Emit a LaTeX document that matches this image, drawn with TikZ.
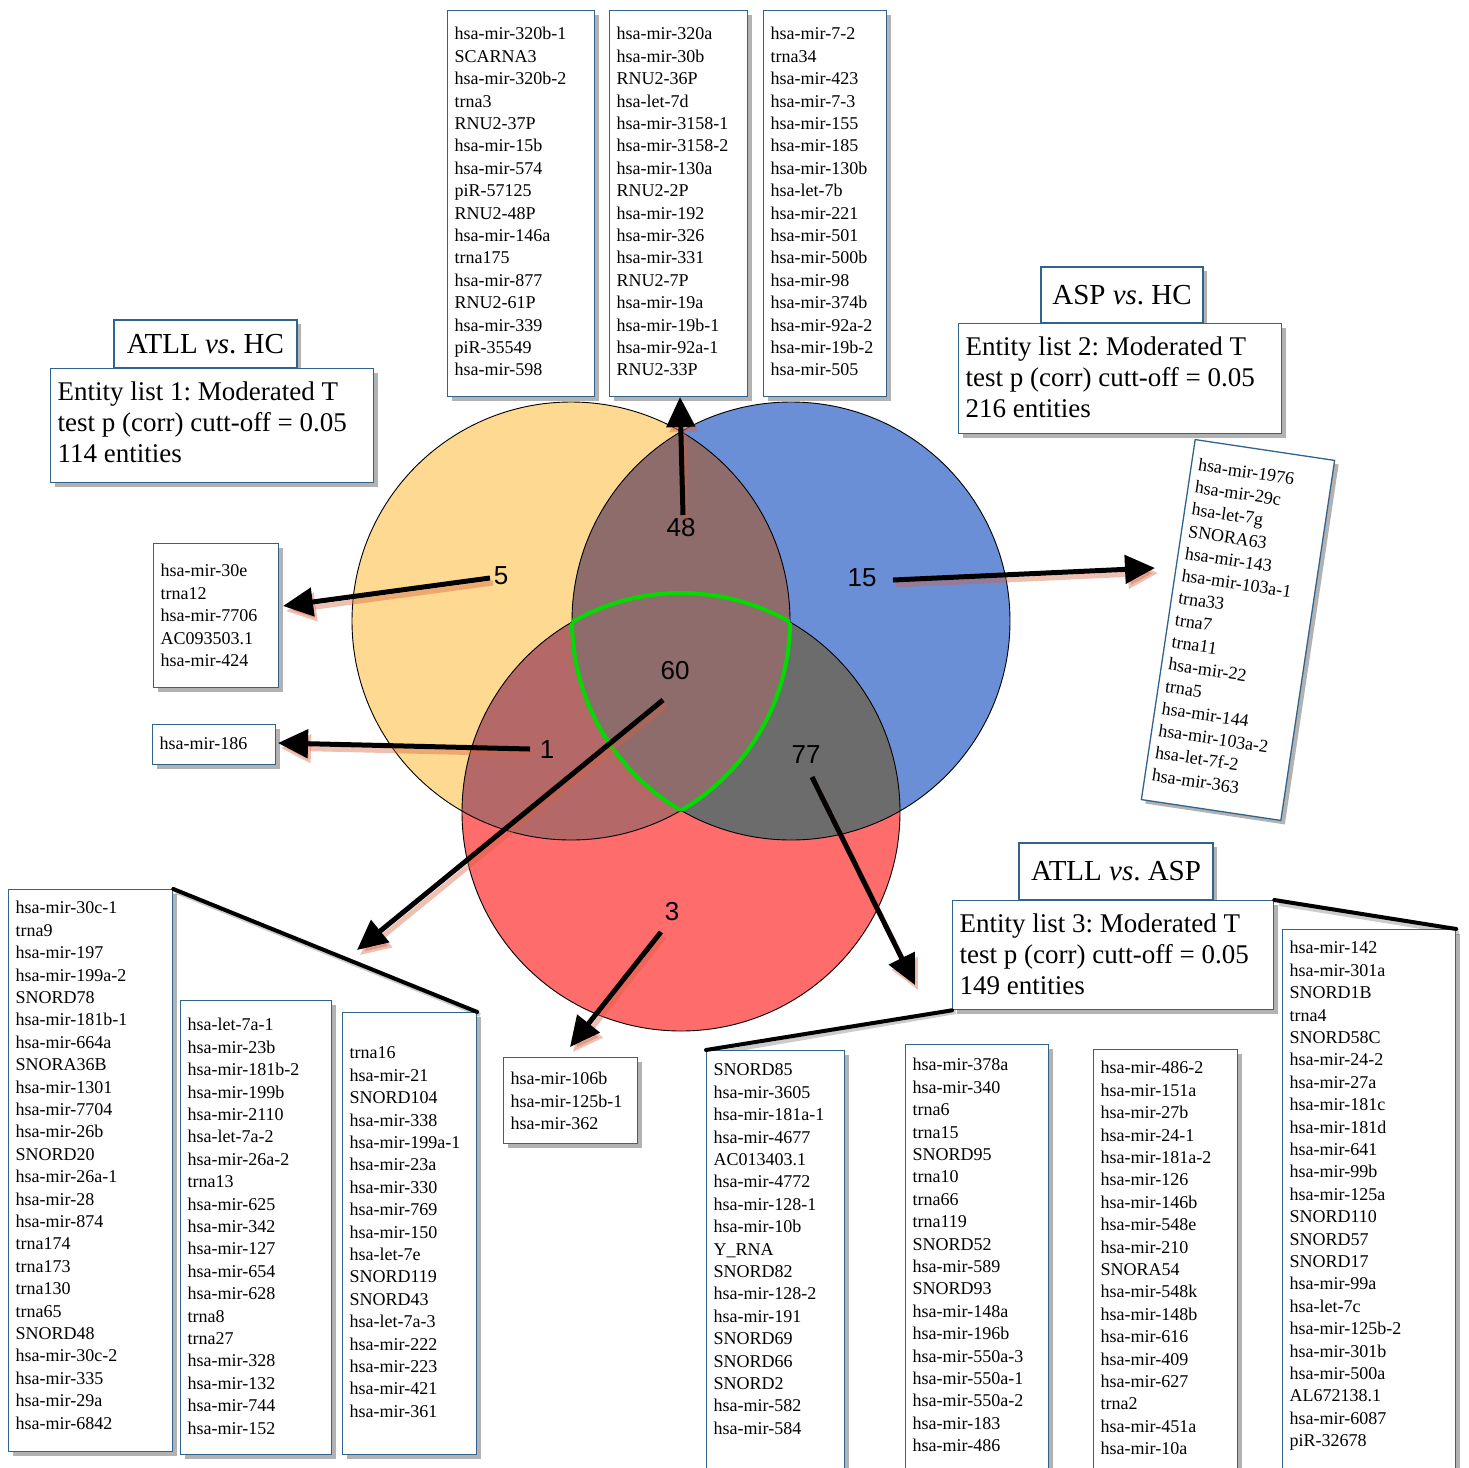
\documentclass[tikz,border=0pt]{standalone}
\usepackage{fontspec}
\setmainfont{Liberation Serif}
\newfontfamily\numfont{Liberation Sans}
\usetikzlibrary{arrows.meta,shadows}
\frenchspacing
\definecolor{ycol}{RGB}{254,217,145}
\definecolor{bcol}{RGB}{106,143,214}
\definecolor{rcol}{RGB}{255,108,108}
\definecolor{ybcol}{RGB}{142,108,108}
\definecolor{yrcol}{RGB}{180,104,104}
\definecolor{brcol}{RGB}{108,108,108}
\definecolor{grcol}{RGB}{0,220,0}
\definecolor{bordcol}{RGB}{49,100,140}
\definecolor{shcol}{RGB}{215,95,60}
\newcommand\mylist[4]{\parbox[c][#1][t]{#2}{\fontsize{18}{22.4}\selectfont\raggedright\vspace*{#3}\strut#4}}
\newcommand\myent[3]{\parbox[c][#1][t]{#2}{\fontsize{27}{31}\selectfont\frenchspacing\raggedright\vspace*{10pt}\strut#3}}
\begin{document}
\begin{tikzpicture}[x=1pt,y=-1pt,
  lbox/.style={draw=bordcol, line width=1.3pt, fill=white, rectangle,
    drop shadow={shadow xshift=4pt, shadow yshift=-4pt, fill=black, opacity=0.3},
    inner xsep=7pt, inner ysep=0pt, anchor=north west},
  hdr/.style={lbox, anchor=center, inner sep=0pt, font=\fontsize{29}{33}\selectfont},
  num/.style={font=\numfont\fontsize{26}{28}\selectfont, inner sep=0pt},
  arr/.style={line width=5pt, -{Triangle[length=30pt,width=28pt]}},
  arrsh/.style={arr, draw=shcol, opacity=0.4},
  callout/.style={line width=4pt, line cap=round},
  calloutsh/.style={line width=4pt, draw=gray, opacity=0.4}]
\useasboundingbox (0,0) rectangle (1468,1468);
\fill[white] (0,0) rectangle (1468,1468);
\clip (0,0) rectangle (1468,1468);
% Venn
\coordinate (Y) at (571,621);
\coordinate (B) at (791,621);
\coordinate (R) at (681,812);
\fill[ycol] (Y) circle (219);
\fill[bcol] (B) circle (219);
\fill[rcol] (R) circle (219);
\begin{scope}
  \clip (Y) circle (219);
  \fill[ybcol] (B) circle (219);
  \fill[yrcol] (R) circle (219);
\end{scope}
\begin{scope}
  \clip (B) circle (219);
  \fill[brcol] (R) circle (219);
\end{scope}
\begin{scope}
  \clip (Y) circle (219);
  \clip (B) circle (219);
  \fill[ybcol] (R) circle (219);
\end{scope}
\draw[line width=0.9pt] (Y) circle (219) (B) circle (219) (R) circle (219);
\begin{scope}
  \clip (Y) circle (219); \clip (B) circle (219);
  \draw[grcol, line width=4pt] (R) circle (219);
\end{scope}
\begin{scope}
  \clip (Y) circle (219); \clip (R) circle (219);
  \draw[grcol, line width=4pt] (B) circle (219);
\end{scope}
\begin{scope}
  \clip (B) circle (219); \clip (R) circle (219);
  \draw[grcol, line width=4pt] (Y) circle (219);
\end{scope}
% numbers
\node[num] (n48) at (681,528) {48};
\node[num] (n5) at (501,576) {5};
\node[num] (n15) at (862,578) {15};
\node[num] (n60) at (675,671) {60};
\node[num] (n1) at (547,750) {1};
\node[num] (n77) at (806,755) {77};
\node[num] (n3) at (672,912) {3};
% callout line shadows
\draw[calloutsh] (176,892) -- (480,1015);
\draw[calloutsh] (1279,904) -- (1459,933);
\draw[calloutsh] (956,1012) -- (710,1054);
% headers and entity boxes
\node[hdr, minimum width=183pt, minimum height=48pt] (H1) at (205.5,344) {ATLL \textit{vs}. HC};
\node[lbox] (E1) at (50,368) {\myent{114pt}{309pt}{Entity list 1: Moderated T\\test p (corr) cutt-off = 0.05\\114 entities}};
\node[hdr, minimum width=162pt, minimum height=56pt] (H2) at (1122,295) {ASP \textit{vs}. HC};
\node[lbox] (E2) at (958,323) {\myent{110pt}{309pt}{Entity list 2: Moderated T\\test p (corr) cutt-off = 0.05\\216 entities}};
\node[hdr, minimum width=194pt, minimum height=57pt] (H3) at (1116,871.5) {ATLL \textit{vs}. ASP};
\node[lbox] (E3) at (952,900) {\myent{109pt}{307pt}{Entity list 3: Moderated T\\test p (corr) cutt-off = 0.05\\149 entities}};
% top lists (48)
\node[lbox] (T1) at (447,10) {\mylist{386pt}{133pt}{13.6pt}{hsa-mir-320b-1\\SCARNA3\\hsa-mir-320b-2\\trna3\\RNU2-37P\\hsa-mir-15b\\hsa-mir-574\\piR-57125\\RNU2-48P\\hsa-mir-146a\\trna175\\hsa-mir-877\\RNU2-61P\\hsa-mir-339\\piR-35549\\hsa-mir-598}};
\node[lbox] (T2) at (609,10) {\mylist{386pt}{124pt}{13.6pt}{hsa-mir-320a\\hsa-mir-30b\\RNU2-36P\\hsa-let-7d\\hsa-mir-3158-1\\hsa-mir-3158-2\\hsa-mir-130a\\RNU2-2P\\hsa-mir-192\\hsa-mir-326\\hsa-mir-331\\RNU2-7P\\hsa-mir-19a\\hsa-mir-19b-1\\hsa-mir-92a-1\\RNU2-33P}};
\node[lbox] (T3) at (763,10) {\mylist{386pt}{109pt}{13.6pt}{hsa-mir-7-2\\trna34\\hsa-mir-423\\hsa-mir-7-3\\hsa-mir-155\\hsa-mir-185\\hsa-mir-130b\\hsa-let-7b\\hsa-mir-221\\hsa-mir-501\\hsa-mir-500b\\hsa-mir-98\\hsa-mir-374b\\hsa-mir-92a-2\\hsa-mir-19b-2\\hsa-mir-505}};
% left lists
\node[lbox] (L5) at (153,543) {\mylist{144pt}{111pt}{17.6pt}{hsa-mir-30e\\trna12\\hsa-mir-7706\\AC093503.1\\hsa-mir-424}};
\node[lbox] (L1) at (152,724) {\mylist{40pt}{109pt}{9.6pt}{hsa-mir-186}};
\node[lbox] (L3) at (503,1057) {\mylist{86pt}{120pt}{11.6pt}{hsa-mir-106b\\hsa-mir-125b-1\\hsa-mir-362}};
% right rotated list (15)
\node[lbox, anchor=center, rotate=-8.5] (R15) at (1238,630) {\mylist{364pt}{127pt}{14.6pt}{hsa-mir-1976\\hsa-mir-29c\\hsa-let-7g\\SNORA63\\hsa-mir-143\\hsa-mir-103a-1\\trna33\\trna7\\trna11\\hsa-mir-22\\trna5\\hsa-mir-144\\hsa-mir-103a-2\\hsa-let-7f-2\\hsa-mir-363}};
% bottom-left lists (60)
\node[lbox] (BL1) at (8,889) {\mylist{562pt}{150pt}{8.6pt}{hsa-mir-30c-1\\trna9\\hsa-mir-197\\hsa-mir-199a-2\\SNORD78\\hsa-mir-181b-1\\hsa-mir-664a\\SNORA36B\\hsa-mir-1301\\hsa-mir-7704\\hsa-mir-26b\\SNORD20\\hsa-mir-26a-1\\hsa-mir-28\\hsa-mir-874\\trna174\\trna173\\trna130\\trna65\\SNORD48\\hsa-mir-30c-2\\hsa-mir-335\\hsa-mir-29a\\hsa-mir-6842}};
\node[lbox] (BL2) at (180,1000) {\mylist{454pt}{137pt}{14.6pt}{hsa-let-7a-1\\hsa-mir-23b\\hsa-mir-181b-2\\hsa-mir-199b\\hsa-mir-2110\\hsa-let-7a-2\\hsa-mir-26a-2\\trna13\\hsa-mir-625\\hsa-mir-342\\hsa-mir-127\\hsa-mir-654\\hsa-mir-628\\trna8\\trna27\\hsa-mir-328\\hsa-mir-132\\hsa-mir-744\\hsa-mir-152}};
\node[lbox] (BL3) at (342,1012) {\mylist{442pt}{120pt}{30.6pt}{trna16\\hsa-mir-21\\SNORD104\\hsa-mir-338\\hsa-mir-199a-1\\hsa-mir-23a\\hsa-mir-330\\hsa-mir-769\\hsa-mir-150\\hsa-let-7e\\SNORD119\\SNORD43\\hsa-let-7a-3\\hsa-mir-222\\hsa-mir-223\\hsa-mir-421\\hsa-mir-361}};
% bottom-right lists (77)
\node[lbox] (BR1) at (706,1050) {\mylist{430pt}{124pt}{9.6pt}{SNORD85\\hsa-mir-3605\\hsa-mir-181a-1\\hsa-mir-4677\\AC013403.1\\hsa-mir-4772\\hsa-mir-128-1\\hsa-mir-10b\\Y\_RNA\\SNORD82\\hsa-mir-128-2\\hsa-mir-191\\SNORD69\\SNORD66\\SNORD2\\hsa-mir-582\\hsa-mir-584}};
\node[lbox] (BR2) at (905,1044) {\mylist{436pt}{129pt}{10.6pt}{hsa-mir-378a\\hsa-mir-340\\trna6\\trna15\\SNORD95\\trna10\\trna66\\trna119\\SNORD52\\hsa-mir-589\\SNORD93\\hsa-mir-148a\\hsa-mir-196b\\hsa-mir-550a-3\\hsa-mir-550a-1\\hsa-mir-550a-2\\hsa-mir-183\\hsa-mir-486}};
\node[lbox] (BR3) at (1093,1049) {\mylist{431pt}{130pt}{8.6pt}{hsa-mir-486-2\\hsa-mir-151a\\hsa-mir-27b\\hsa-mir-24-1\\hsa-mir-181a-2\\hsa-mir-126\\hsa-mir-146b\\hsa-mir-548e\\hsa-mir-210\\SNORA54\\hsa-mir-548k\\hsa-mir-148b\\hsa-mir-616\\hsa-mir-409\\hsa-mir-627\\trna2\\hsa-mir-451a\\hsa-mir-10a}};
\node[lbox] (BR4) at (1282,929) {\mylist{551pt}{159pt}{8.6pt}{hsa-mir-142\\hsa-mir-301a\\SNORD1B\\trna4\\SNORD58C\\hsa-mir-24-2\\hsa-mir-27a\\hsa-mir-181c\\hsa-mir-181d\\hsa-mir-641\\hsa-mir-99b\\hsa-mir-125a\\SNORD110\\SNORD57\\SNORD17\\hsa-mir-99a\\hsa-let-7c\\hsa-mir-125b-2\\hsa-mir-301b\\hsa-mir-500a\\AL672138.1\\hsa-mir-6087\\piR-32678}};
% callout lines
\draw[callout] (BL1.north east) -- (BL3.north east);
\draw[callout] (E3.north east) -- (BR4.north east);
\draw[callout] (E3.south west) -- (BR1.north west);
% arrows
\coordinate (s48) at (683,515); \coordinate (e48) at (680,397);
\coordinate (s5) at (490,578);  \coordinate (e5) at (283,606);
\coordinate (s15) at (893,580); \coordinate (e15) at (1155,568);
\coordinate (s60) at (663,700); \coordinate (e60) at (357,950);
\coordinate (s1) at (530,749);  \coordinate (e1) at (278,743);
\coordinate (s77) at (812,777); \coordinate (e77) at (915,985);
\coordinate (s3) at (661,932);  \coordinate (e3) at (570,1047);
\foreach \a in {48,5,15,60,1,77,3}{
  \draw[arrsh] ([shift={(3,5)}]s\a) -- ([shift={(3,5)}]e\a);
}
\foreach \a in {48,5,15,60,1,77,3}{
  \draw[arr] (s\a) -- (e\a);
}
\end{tikzpicture}
\end{document}
